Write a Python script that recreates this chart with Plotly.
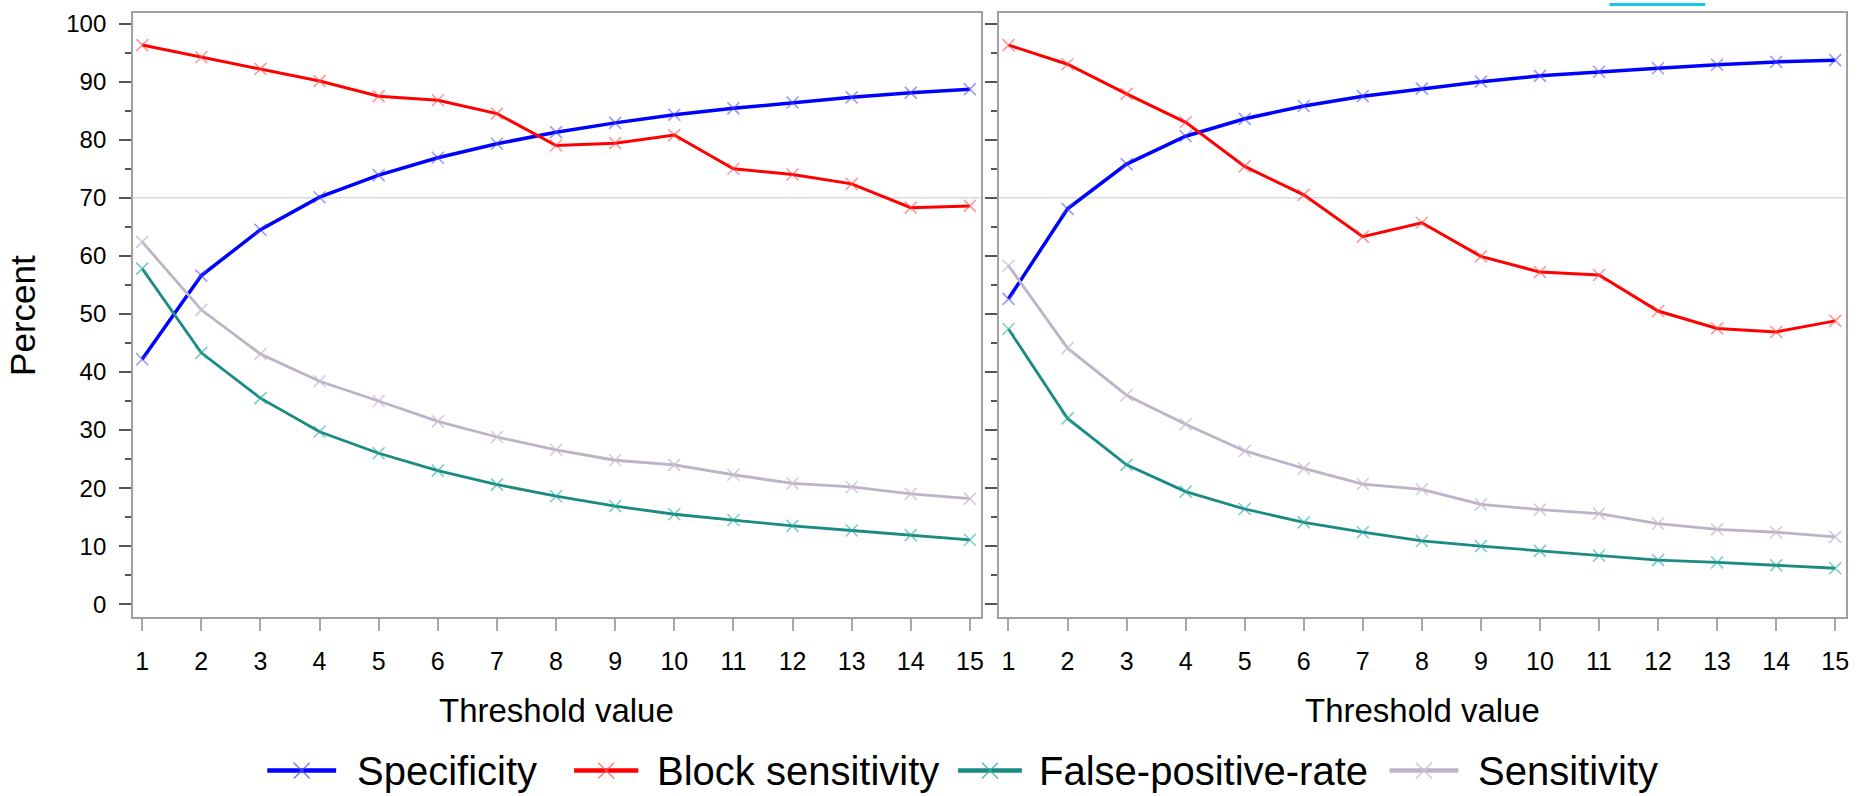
import plotly.graph_objects as go

# ---------------- data ----------------
thresholds = list(range(1, 16))

series_names = ["Specificity", "Block sensitivity", "False-positive-rate", "Sensitivity"]

left_specificity = [42.2, 56.6, 64.5, 70.1, 73.9, 76.9, 79.3, 81.3, 82.9, 84.3, 85.4, 86.4, 87.3, 88.1, 88.7]
left_block_sens = [96.3, 94.2, 92.2, 90.1, 87.5, 86.8, 84.5, 79.0, 79.4, 80.8, 75.0, 74.0, 72.4, 68.3, 68.6]
left_fpr = [57.8, 43.3, 35.5, 29.7, 26.0, 23.0, 20.6, 18.6, 16.9, 15.5, 14.5, 13.5, 12.7, 11.9, 11.1]
left_sensitivity = [62.4, 50.7, 43.1, 38.4, 35.0, 31.5, 28.8, 26.6, 24.8, 24.0, 22.3, 20.8, 20.2, 19.0, 18.2]

right_specificity = [52.6, 68.1, 75.8, 80.6, 83.6, 85.8, 87.5, 88.8, 90.0, 91.0, 91.7, 92.3, 92.9, 93.4, 93.7]
right_block_sens = [96.3, 93.0, 87.9, 83.0, 75.4, 70.5, 63.3, 65.7, 59.9, 57.2, 56.7, 50.5, 47.5, 46.9, 48.8]
right_fpr = [47.4, 32.0, 24.0, 19.4, 16.4, 14.1, 12.4, 10.9, 10.0, 9.2, 8.4, 7.6, 7.2, 6.7, 6.2]
right_sensitivity = [58.3, 44.1, 36.0, 31.0, 26.4, 23.4, 20.7, 19.8, 17.2, 16.3, 15.6, 13.9, 12.9, 12.4, 11.6]

y_tick_vals = [0, 10, 20, 30, 40, 50, 60, 70, 80, 90, 100]
reference_line = 70

# ---------------- styles ----------------
W, H = 1864, 796
FONT = "Liberation Sans, Arial, sans-serif"
line_colors = ["#0000FF", "#FF0000", "#1A8A82", "#BDB3C6"]
marker_colors = ["rgba(70,70,255,0.55)", "rgba(255,70,70,0.55)",
                 "rgba(40,170,160,0.6)", "rgba(200,190,205,0.8)"]
line_widths = [3.5, 3.0, 2.8, 2.8]

left_data = [left_specificity, left_block_sens, left_fpr, left_sensitivity]
right_data = [right_specificity, right_block_sens, right_fpr, right_sensitivity]

fig = go.Figure()
for panel, (data, xa, ya) in enumerate([(left_data, "x", "y"), (right_data, "x2", "y2")]):
    for i, name in enumerate(series_names):
        fig.add_trace(go.Scatter(
            x=thresholds, y=data[i], name=name, mode="lines+markers",
            xaxis=xa, yaxis=ya, showlegend=False,
            line=dict(color=line_colors[i], width=line_widths[i]),
            marker=dict(symbol="x-thin", size=12,
                        line=dict(color=marker_colors[i], width=1.6)),
        ))

def px(xp):
    return xp / W

def py(yp):
    return 1 - yp / H

y_dom = [py(617), py(10)]
y_range = [-2.18, 101.83]
x_range = [0.846, 15.183]

common_x = dict(range=x_range, tickmode="array", tickvals=thresholds,
                ticktext=[str(t) for t in thresholds],
                showline=True, mirror=True, linecolor="#A0A0A0", linewidth=2,
                ticks="outside", ticklen=12, tickwidth=2, tickcolor="#A8A8A8",
                tickfont=dict(family=FONT, size=25, color="#000"),
                ticklabelstandoff=9,
                showgrid=False, zeroline=False, fixedrange=True)
common_y = dict(range=y_range, tickmode="array", tickvals=y_tick_vals,
                showline=True, mirror=True, linecolor="#A0A0A0", linewidth=2,
                ticks="outside", ticklen=12, tickwidth=1.5, tickcolor="#555",
                minor=dict(dtick=5, tick0=0, ticks="outside", ticklen=6,
                           tickwidth=1.5, tickcolor="#555", showgrid=False),
                tickfont=dict(family=FONT, size=24, color="#000"),
                showgrid=False, zeroline=False, fixedrange=True)

fig.update_layout(
    width=W, height=H,
    margin=dict(l=0, r=0, t=0, b=0),
    paper_bgcolor="white", plot_bgcolor="white",
    font=dict(family=FONT, color="#000"),
    xaxis=dict(domain=[px(133.3), px(982.3)], anchor="y", **common_x),
    xaxis2=dict(domain=[px(1001), px(1849)], anchor="y2", **common_x),
    yaxis=dict(domain=y_dom, anchor="x", ticklabelstandoff=8, **common_y),
    yaxis2=dict(domain=y_dom, anchor="x2", showticklabels=False, **common_y),
    showlegend=False,
)

shapes = []
annotations = []
# reference line at 70 in each panel
for xr, yr in [("x domain", "y"), ("x2 domain", "y2")]:
    shapes.append(dict(type="line", xref=xr, yref=yr, x0=0, x1=1,
                       y0=reference_line, y1=reference_line,
                       line=dict(color="#DADADA", width=1.6), layer="below"))

# axis titles
for xr in ["x domain", "x2 domain"]:
    annotations.append(dict(text="Threshold value", xref=xr, yref="paper",
                            x=0.5, y=py(711), xanchor="center", yanchor="middle",
                            showarrow=False, font=dict(family=FONT, size=33, color="#000")))
annotations.append(dict(text="Percent", xref="paper", yref="paper",
                        x=px(23), y=py(313.5), xanchor="center", yanchor="middle",
                        textangle=-90, showarrow=False,
                        font=dict(family=FONT, size=35, color="#000")))

# custom legend
legend_y = 771.5
legend_line_x = [(267.7, 336.7), (575, 639.3), (959.6, 1023.5), (1391.8, 1460.7)]
legend_text_x = [356, 656, 1039, 1478]
legend_marker_colors = ["rgba(90,90,255,0.8)", "rgba(255,90,90,0.8)",
                        "rgba(60,175,165,0.85)", "rgba(205,195,210,0.95)"]
for i, name in enumerate(series_names):
    x0, x1 = legend_line_x[i]
    shapes.append(dict(type="line", xref="paper", yref="paper",
                       x0=px(x0), x1=px(x1), y0=py(legend_y), y1=py(legend_y),
                       line=dict(color=line_colors[i], width=4.5)))
    cx = (x0 + x1) / 2
    d = 8
    path = (f"M {px(cx-d)},{py(legend_y-d)} L {px(cx+d)},{py(legend_y+d)} "
            f"M {px(cx-d)},{py(legend_y+d)} L {px(cx+d)},{py(legend_y-d)}")
    shapes.append(dict(type="path", xref="paper", yref="paper", path=path,
                       line=dict(color=legend_marker_colors[i], width=1.5)))
    annotations.append(dict(text=name, xref="paper", yref="paper",
                            x=px(legend_text_x[i]), y=py(legend_y), xanchor="left",
                            yanchor="middle", showarrow=False,
                            font=dict(family=FONT, size=40, color="#000")))

# thin cyan bar at the very top
shapes.append(dict(type="rect", xref="paper", yref="paper",
                   x0=px(1612), x1=px(1708), y0=py(3), y1=py(0),
                   fillcolor="#1BC5F0", line=dict(width=0)))

fig.update_layout(shapes=shapes, annotations=annotations)
fig.write_html("out.html")
